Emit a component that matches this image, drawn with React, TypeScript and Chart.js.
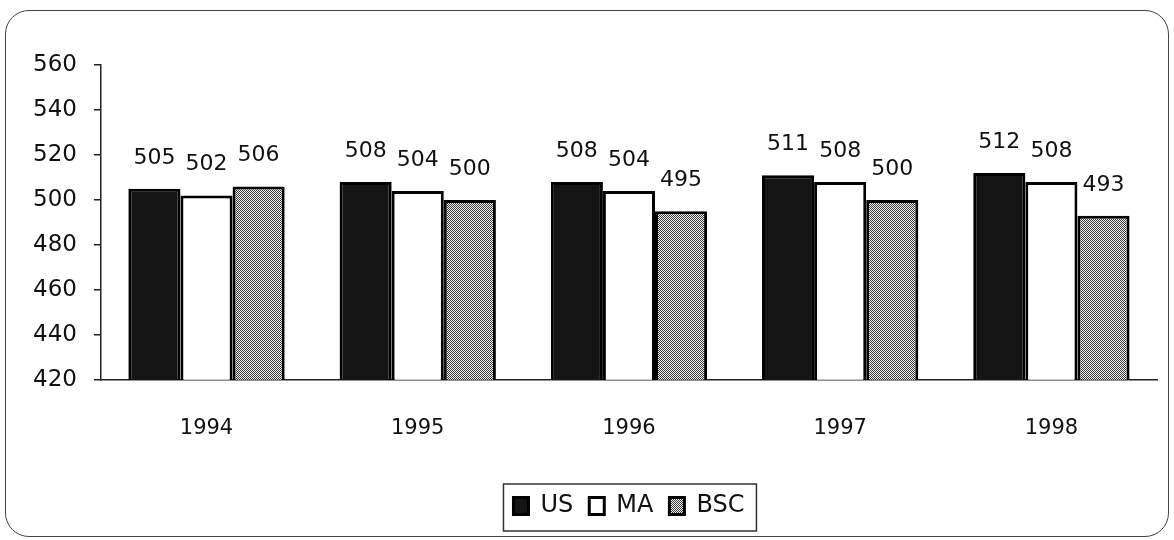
import React, { useEffect, useRef } from "react";
import { Chart, registerables } from "chart.js";

Chart.register(...registerables);

const years = ["1994", "1995", "1996", "1997", "1998"];
const usValues = [505, 508, 508, 511, 512];
const maValues = [502, 504, 504, 508, 508];
const bscValues = [506, 500, 495, 500, 493];
const seriesNames = ["US", "MA", "BSC"];

const FONT = "'DejaVu Sans', sans-serif";

function makePattern(): CanvasPattern | string {
  const c = document.createElement("canvas");
  c.width = 2;
  c.height = 2;
  const g = c.getContext("2d");
  if (!g) return "#999";
  g.fillStyle = "#f2f2f2";
  g.fillRect(0, 0, 2, 2);
  g.fillStyle = "#3a3a3a";
  g.fillRect(0, 0, 1, 1);
  g.fillRect(1, 1, 1, 1);
  const p = g.createPattern(c, "repeat");
  return p || "#999";
}

const valueLabels = {
  id: "valueLabels",
  afterDatasetsDraw(chart: any) {
    const ctx = chart.ctx;
    ctx.save();
    ctx.font = `22px ${FONT}`;
    ctx.fillStyle = "#111";
    ctx.textAlign = "center";
    ctx.textBaseline = "alphabetic";
    chart.data.datasets.forEach((ds: any, i: number) => {
      const meta = chart.getDatasetMeta(i);
      meta.data.forEach((bar: any, j: number) => {
        ctx.fillText(String(ds.data[j]), bar.x, bar.y - 25);
      });
    });
    ctx.restore();
  },
};

const legendBorder = {
  id: "legendBorder",
  afterDraw(chart: any) {
    const lg = chart.legend;
    if (!lg || !lg.legendHitBoxes || !lg.legendHitBoxes.length) return;
    let l = Infinity, r = -Infinity, t = Infinity, b = -Infinity;
    lg.legendHitBoxes.forEach((h: any) => {
      l = Math.min(l, h.left);
      r = Math.max(r, h.left + h.width);
      t = Math.min(t, h.top);
      b = Math.max(b, h.top + h.height);
    });
    const ctx = chart.ctx;
    ctx.save();
    ctx.strokeStyle = "#333";
    ctx.lineWidth = 1.5;
    ctx.strokeRect(l - 10, t - 10, r - l + 22, b - t + 23);
    ctx.restore();
  },
};

export default function App() {
  const ref = useRef<HTMLCanvasElement | null>(null);

  useEffect(() => {
    if (!ref.current) return;
    const pattern = makePattern();
    const chart = new Chart(ref.current, {
      type: "bar",
      data: {
        labels: years,
        datasets: [
          {
            label: seriesNames[0],
            data: usValues,
            backgroundColor: "#141414",
            borderColor: "#000",
            borderWidth: 3,
          },
          {
            label: seriesNames[1],
            data: maValues,
            backgroundColor: "#ffffff",
            borderColor: "#000",
            borderWidth: 3,
          },
          {
            label: seriesNames[2],
            data: bscValues,
            backgroundColor: pattern as any,
            borderColor: "#000",
            borderWidth: 3,
          },
        ],
      },
      options: {
        responsive: false,
        animation: false,
        devicePixelRatio: 1,
        layout: { padding: { top: 65, left: 16, right: 17, bottom: 12 } },
        datasets: {
          bar: { categoryPercentage: 0.74, barPercentage: 1 },
        } as any,
        scales: {
          x: {
            grid: { display: true, drawOnChartArea: false, drawTicks: false },
            border: { display: true, color: "#222", width: 1.5 },
            ticks: { font: { family: FONT, size: 21 }, color: "#111", padding: 36 },
            afterFit: (scale: any) => {
              scale.height += 1;
            },
          },
          y: {
            min: 420,
            max: 560,
            grid: { display: true, drawOnChartArea: false, drawTicks: true, tickLength: 7, color: "#222", lineWidth: 1.5 },
            border: { display: true, color: "#222", width: 1.5 },
            ticks: { stepSize: 20, font: { family: FONT, size: 23 }, color: "#111", padding: 17 },
          },
        },
        plugins: {
          legend: {
            display: true,
            position: "bottom",
            fullSize: false,
            labels: {
              font: { family: FONT, size: 24 },
              color: "#111",
              boxWidth: 15,
              boxHeight: 17,
              padding: 16,
            },
          },
          tooltip: { enabled: false },
        },
      },
      plugins: [valueLabels, legendBorder],
    });
    return () => chart.destroy();
  }, []);

  return (
    <div style={{ position: "absolute", left: 0, top: 0, width: 1174, height: 540, background: "#fff" }}>
      <div
        style={{
          position: "absolute",
          left: 5,
          top: 10,
          width: 1164,
          height: 527,
          boxSizing: "border-box",
          border: "1.5px solid #444",
          borderRadius: 24,
        }}
      />
      <canvas
        ref={ref}
        width={1174}
        height={540}
        style={{ position: "absolute", left: 0, top: 0, width: 1174, height: 540 }}
      />
    </div>
  );
}
